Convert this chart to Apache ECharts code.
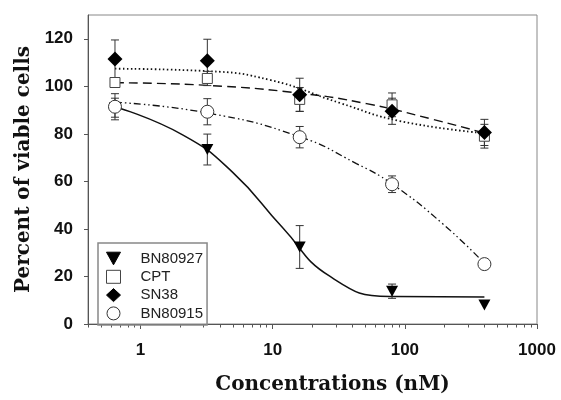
<!DOCTYPE html>
<html><head><meta charset="utf-8">
<script src="https://cdn.jsdelivr.net/npm/echarts@6/dist/echarts.min.js"></script>
<style>html,body{margin:0;padding:0;background:#fff}#c{width:561px;height:400px}</style>
</head><body><div id="c"></div>
<script>
// ---- data ----
const concentrations = [0.64, 3.2, 16, 80, 400];
const seriesNames = ['BN80927', 'CPT', 'SN38', 'BN80915'];
const bn80927 = [91, 73.4, 32.4, 13.8, 8.0];
const bn80927Err = [4, 6.5, 9, 3, 0];
const cpt = [101.6, 103.3, 94.5, 92.2, 79];
const cptErr = [2, 3, 5, 5, 5];
const sn38 = [111.5, 110.8, 96.4, 89.5, 80.6];
const sn38Err = [8, 9, 7, 5.5, 5.5];
const bn80915 = [91.4, 89.3, 78.6, 58.8, 25.2];
const bn80915Err = [5.5, 5.5, 4.5, 3.5, 1.5];
// fitted curves
const fitBN80927 = [[0.64,91.4],[2.08,79.6],[4.98,63.8],[11.9,40.5],[27,20.1],[77,11.6],[400,11.4]];
const fitCPT = [[0.64,101.5],[3.2,100.4],[16,97.1],[51.3,92.7],[163,86.1],[400,80.3]];
const fitSN38 = [[0.64,107.4],[3.2,106.4],[9.66,102.6],[32.2,93.0],[91.6,85.4],[400,80.3]];
const fitBN80915 = [[0.64,93.3],[3.2,88.8],[16,78.8],[43,67.5],[80,58.9],[194,42.1],[400,25.5]];
const yTicks = [0, 20, 40, 60, 80, 100, 120];
const xMajorTicks = [1, 10, 100, 1000];
const xMinorTicks = [0.4,0.5,0.6,0.7,0.8,0.9,2,3,4,5,6,7,8,9,20,30,40,50,60,70,80,90,200,300,400,500,600,700,800,900];

const chart = echarts.init(document.getElementById('c'));
const ink = '#111';

function fitLine(data, type, width) {
  return { type: 'line', data: data, symbol: 'none', showSymbol: false, smooth: 0.5,
    silent: true, z: 1, legendHoverLink: false,
    lineStyle: { color: ink, width: width, type: type } };
}
function errBars(vals, errs) {
  return { type: 'custom', silent: true, z: 2,
    data: concentrations.map((c, i) => [c, vals[i], errs[i]]).filter(d => d[2] > 0),
    encode: { x: 0, y: 1 },
    renderItem: function (params, api) {
      const x = api.value(0), v = api.value(1), e = api.value(2);
      const t = api.coord([x, v + e]), b = api.coord([x, v - e]);
      const w = 4, st = { stroke: '#333', lineWidth: 1 };
      return { type: 'group', children: [
        { type: 'line', shape: { x1: t[0], y1: t[1], x2: b[0], y2: b[1] }, style: st },
        { type: 'line', shape: { x1: t[0] - w, y1: t[1], x2: t[0] + w, y2: t[1] }, style: st },
        { type: 'line', shape: { x1: b[0] - w, y1: b[1], x2: b[0] + w, y2: b[1] }, style: st }
      ] };
    } };
}
function pts(name, vals, symbol, size, style, z) {
  return { type: 'scatter', name: name, data: concentrations.map((c, i) => [c, vals[i]]),
    symbol: symbol, symbolSize: size, z: z, itemStyle: Object.assign({ opacity: 1 }, style) };
}

chart.setOption({
  animation: false,
  grid: { left: 88, right: 24, top: 15, bottom: 68, show: true, borderColor: '#888', borderWidth: 1 },
  legend: {
    data: seriesNames, orient: 'vertical', left: 98, top: 243,
    padding: [8, 4, 4, 8], itemWidth: 14, itemHeight: 13, itemGap: 3.3,
    borderColor: '#888', borderWidth: 1.5,
    itemStyle: { borderWidth: 1 },
    textStyle: { fontFamily: 'Liberation Sans', fontSize: 15, color: '#222', padding: [0, 0, 0, 15] }
  },
  xAxis: [{
    type: 'log', min: 0.4, max: 1000, logBase: 10,
    name: 'Concentrations (nM)', nameLocation: 'middle', nameGap: 51,
    nameTextStyle: { fontFamily: 'DejaVu Serif', fontWeight: 'bold', fontSize: 20, color: ink, padding: [0, 0, 0, 40] },
    axisLine: { lineStyle: { color: '#555', width: 1 } },
    axisTick: { customValues: xMajorTicks, length: 5, lineStyle: { color: '#555' } },
    axisLabel: { customValues: xMajorTicks, margin: 18, fontFamily: 'Liberation Sans', fontWeight: 'bold', fontSize: 17, color: ink,
      formatter: function (v) { return String(Math.round(v)); } },
    splitLine: { show: false }, minorTick: { show: false }
  }, {
    type: 'log', min: 0.4, max: 1000, logBase: 10, position: 'bottom',
    axisLine: { show: false },
    axisTick: { customValues: xMinorTicks, length: 3.5, lineStyle: { color: '#555' } },
    axisLabel: { show: false }, splitLine: { show: false }
  }],
  yAxis: {
    type: 'value', min: 0, max: 130,
    name: 'Percent of viable cells', nameLocation: 'middle', nameGap: 52,
    nameTextStyle: { fontFamily: 'DejaVu Serif', fontWeight: 'bold', fontSize: 20, color: ink },
    axisLine: { show: true, lineStyle: { color: '#555', width: 1 } },
    axisTick: { show: true, customValues: yTicks, length: 4, lineStyle: { color: '#555' } },
    axisLabel: { customValues: yTicks, margin: 15, fontFamily: 'Liberation Sans', fontWeight: 'bold', fontSize: 17, color: ink },
    splitLine: { show: false }
  },
  series: [
    fitLine(fitBN80927, 'solid', 1.5),
    fitLine(fitCPT, [9, 5], 1.4),
    fitLine(fitSN38, [1.5, 2.5], 1.8),
    fitLine(fitBN80915, [7, 3, 1.5, 3, 1.5, 3], 1.3),
    errBars(bn80927, bn80927Err),
    errBars(cpt, cptErr),
    errBars(sn38, sn38Err),
    errBars(bn80915, bn80915Err),
    pts('BN80927', bn80927, 'path://M0,0L10,0L5,9Z', [12, 11], { color: '#000', borderColor: '#000', borderWidth: 0 }, 3),
    pts('CPT', cpt, 'rect', 10, { color: '#fff', borderColor: '#444', borderWidth: 1 }, 4),
    pts('SN38', sn38, 'diamond', 15, { color: '#000', borderColor: '#000', borderWidth: 0 }, 5),
    pts('BN80915', bn80915, 'circle', 13, { color: '#fff', borderColor: '#333', borderWidth: 1 }, 6)
  ]
});
</script>
</body></html>
